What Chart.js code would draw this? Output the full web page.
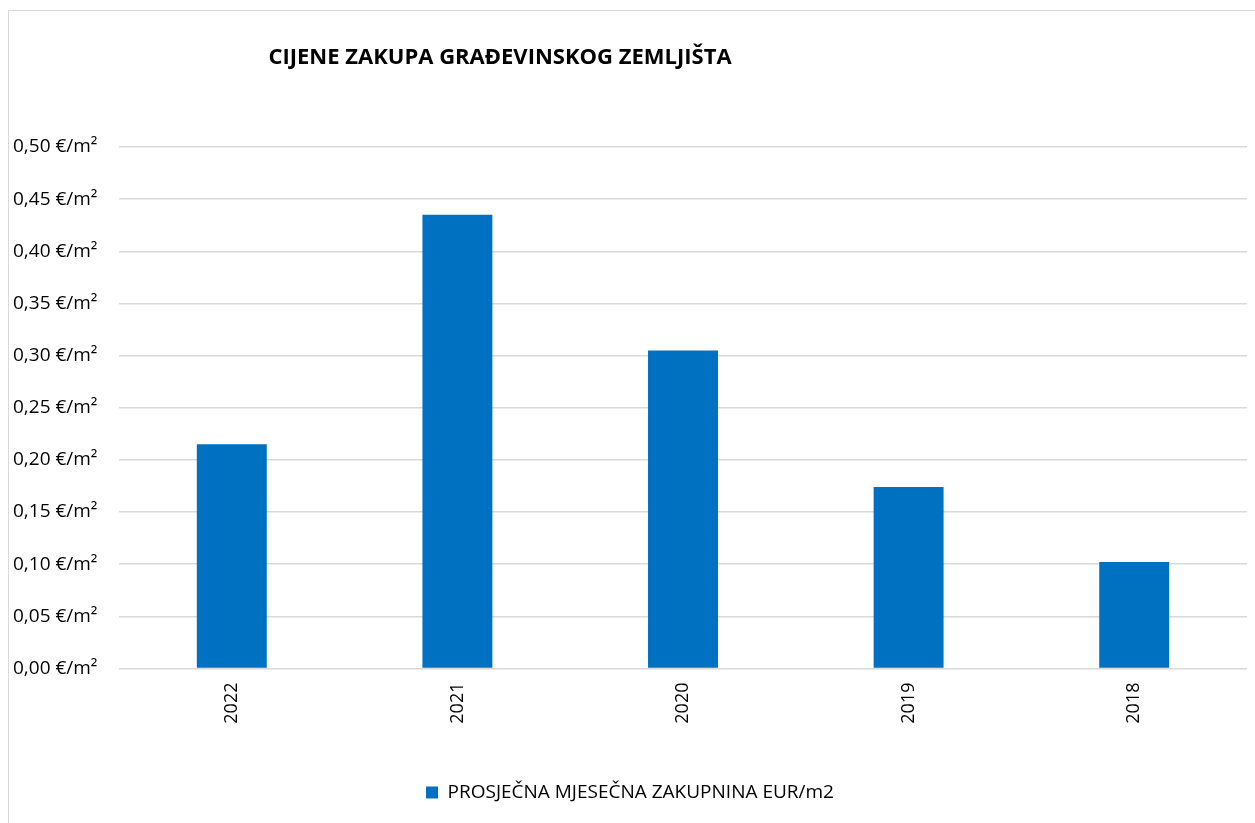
<!DOCTYPE html>
<html>
<head>
<meta charset="utf-8">
<script src="https://cdn.jsdelivr.net/npm/chart.js@4.4.1/dist/chart.umd.min.js"></script>
<style>
  html, body { margin: 0; padding: 0; background: #fff; width: 1255px; height: 823px; overflow: hidden; }
  #box { position: absolute; left: 8px; top: 10px; width: 1260px; height: 830px; border: 1px solid #d9d9d9; box-sizing: border-box; }
  #wrap { position: absolute; left: 1px; top: 1px; width: 1246px; height: 812px; }
</style>
</head>
<body>
<div id="box"><div id="wrap"><canvas id="c" width="1246" height="812"></canvas></div></div>
<script>
const chartTitle = "CIJENE ZAKUPA GRAĐEVINSKOG ZEMLJIŠTA";
const seriesName = "PROSJEČNA MJESEČNA ZAKUPNINA EUR/m2";
const categories = ["2022", "2021", "2020", "2019", "2018"];
const values = [0.215, 0.435, 0.305, 0.174, 0.102];
const yTicks = [0, 0.05, 0.10, 0.15, 0.20, 0.25, 0.30, 0.35, 0.40, 0.45, 0.50];

const FONT = "'Open Sans', sans-serif";

const titlePlugin = {
  id: 'customTitle',
  afterDraw(chart) {
    const ctx = chart.ctx;
    ctx.save();
    ctx.font = "bold 22px " + FONT;
    ctx.fillStyle = "#000";
    ctx.textAlign = "center";
    ctx.textBaseline = "middle";
    ctx.fillText(chartTitle, 490, 46);
    ctx.restore();
  }
};

new Chart(document.getElementById('c'), {
  type: 'bar',
  data: {
    labels: categories,
    datasets: [{
      label: seriesName,
      data: values,
      backgroundColor: '#0070C0',
      borderColor: '#0070C0',
      borderWidth: 0,
      barPercentage: 0.31,
      categoryPercentage: 1.0
    }]
  },
  options: {
    responsive: false,
    animation: false,
    layout: { padding: { top: 135, left: 3, right: 9, bottom: 12 } },
    plugins: {
      title: { display: false },
      tooltip: { enabled: false },
      legend: {
        display: true,
        position: 'bottom',
        labels: {
          font: { family: FONT, size: 19 },
          color: '#000',
          boxWidth: 12,
          boxHeight: 12,
          padding: 10
        }
      }
    },
    scales: {
      x: {
        grid: { display: false, drawTicks: false },
        border: { display: false },
        ticks: {
          font: { family: FONT, size: 18 },
          color: '#000',
          minRotation: 90,
          maxRotation: 90,
          padding: 14
        },
        afterFit(scale) { scale.height = 104.5; }
      },
      y: {
        min: 0,
        max: 0.5,
        grid: { color: '#d9d9d9', lineWidth: 1.5, drawTicks: false },
        border: { display: false },
        afterBuildTicks(scale) { scale.ticks = yTicks.map(v => ({ value: v })); },
        afterFit(scale) { scale.width = 106; },
        ticks: {
          font: { family: FONT, size: 19 },
          color: '#000',
          crossAlign: 'far',
          padding: 18,
          callback: (v) => v.toFixed(2).replace('.', ',') + ' €/m²'
        }
      }
    }
  },
  plugins: [titlePlugin]
});
</script>
</body>
</html>
